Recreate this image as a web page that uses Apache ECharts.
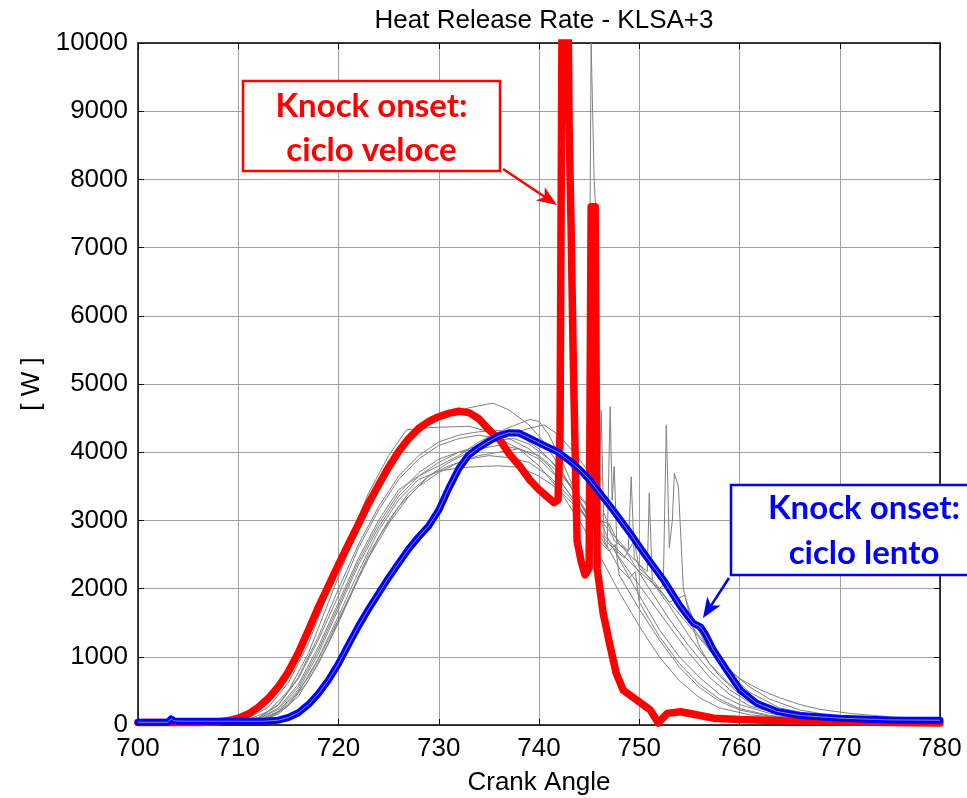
<!DOCTYPE html>
<html>
<head>
<meta charset="utf-8">
<script src="https://cdn.jsdelivr.net/npm/echarts@6/dist/echarts.min.js"></script>
<style>
html, body { margin: 0; padding: 0; background: #fff; }
#chart { width: 967px; height: 798px; }
</style>
</head>
<body>
<div id="chart"></div>
<script>
// tick values
const xTicks = [700, 710, 720, 730, 740, 750, 760, 770, 780]
const yTicks = [0, 1000, 2000, 3000, 4000, 5000, 6000, 7000, 8000, 9000, 10000]

// ciclo veloce (red) - [crank angle, W]
const fastCycle = [
    [700, 35], [703, 35], [706, 35], [708, 45], [709, 65], [710, 100], [711, 160], [712, 260],
    [713, 390], [714, 560], [715, 780], [716, 1060], [717, 1390], [718, 1730], [719, 2040],
    [720, 2350], [721, 2650], [722, 2950], [723, 3250], [724, 3520], [725, 3780], [726, 4010],
    [727, 4200], [728, 4350], [729, 4450], [730, 4520], [731, 4570], [732, 4600], [733, 4580],
    [734, 4490], [735, 4330], [736.1, 4180], [737, 3980], [738.1, 3790],
    [739.1, 3590], [740, 3450], [740.8, 3350], [741.5, 3260], [741.9, 3300], [742.1, 4300],
    [742.3, 10500], [742.9, 10500], [743.0, 8800], [743.2, 7300], [743.4, 5500], [743.6, 4000],
    [743.8, 2700], [744.2, 2400], [744.6, 2200], [745.0, 2300], [745.2, 7600], [745.6, 7600],
    [745.8, 2300], [746.4, 1640], [747.1, 1150], [747.7, 760], [748.4, 510], [749.7, 370],
    [751.1, 220], [751.9, 30], [752.8, 170], [754.1, 195], [755.7, 150], [757.4, 100],
    [760, 80], [765, 60], [770, 45], [780, 30]
]

// ciclo lento (blue)
const slowCycle = [
    [700, 40], [703, 40], [703.3, 90], [703.6, 60], [705, 55], [710, 55], [712.5, 55], [714, 70],
    [715, 110], [716, 180], [717, 300], [718, 460], [719, 660], [720, 900], [721, 1180],
    [722, 1450], [723, 1700], [724, 1930], [725, 2160], [726, 2370], [727, 2580], [728, 2760],
    [729, 2920], [730, 3150], [731, 3470], [732, 3760], [733, 3960], [734, 4070], [735, 4160],
    [736, 4240], [737, 4285], [738, 4280], [739, 4210], [740.5, 4100], [741.8, 4010], [743, 3880],
    [744.1, 3740], [745, 3600], [745.8, 3450], [747.4, 3150], [749.1, 2810], [750.7, 2470],
    [752.4, 2130], [754.1, 1740], [755.4, 1490], [756.1, 1440], [756.6, 1330], [757.4, 1100],
    [758.7, 810], [760.1, 510], [761.7, 320], [763.7, 200], [766, 140], [770, 100], [775, 75],
    [780, 70]
]

// other cycles (grey)
const cycle01 = [
    [700, 40], [708, 45], [711, 80], [713, 200], [715, 500], [717, 1050], [719, 1800], [721, 2550],
    [723, 3200], [725, 3750], [727, 4150], [729, 4400], [731, 4550], [733, 4650], [735.4, 4720],
    [737, 4620], [739, 4400], [740.5, 4150], [742, 3800], [743.5, 3400], [744.9, 3050],
    [745.2, 10000], [745.5, 8000], [745.9, 6900], [746.1, 3000], [747, 2700], [748.5, 2300],
    [750, 1900], [752, 1400], [754, 1000], [756, 700], [758, 450], [760, 300], [763, 170],
    [767, 100], [772, 70], [780, 50]
]
const cycle02 = [
    [700, 40], [709, 50], [711, 100], [713, 260], [715, 620], [717, 1200], [719, 1950], [721, 2700],
    [723, 3400], [725, 3950], [726.8, 4330], [729, 4360], [731, 4370], [733, 4380], [735, 4300],
    [737, 4200], [739, 4050], [741, 3800], [743, 3400], [745, 3000], [745.9, 2800], [746.2, 4620],
    [746.5, 2700], [748, 2300], [749, 2150], [749.6, 2250], [750, 1800], [752, 1300], [754, 900],
    [756, 600], [758, 380], [760, 240], [763, 140], [767, 90], [772, 65], [780, 50]
]
const cycle03 = [
    [700, 35], [710, 45], [712, 90], [714, 250], [716, 600], [718, 1150], [720, 1800], [722, 2450],
    [724, 3000], [726, 3450], [728, 3650], [730, 3800], [732, 3950], [734, 4150], [736, 4300],
    [738, 4420], [739.1, 4480], [740, 4450], [741, 4250], [742.5, 3800], [744, 3300], [745.5, 2900],
    [746.8, 2600], [747.1, 4670], [747.3, 3300], [747.5, 3790], [747.8, 2500], [749, 2250],
    [751, 1850], [753, 1450], [755, 1050], [757, 700], [759, 450], [761, 280], [764, 160],
    [768, 100], [773, 70], [780, 55]
]
const cycle04 = [
    [700, 40], [710, 45], [712, 70], [714, 200], [716, 520], [718, 1050], [720, 1700], [722, 2350],
    [724, 2900], [726, 3350], [728, 3650], [730, 3850], [732, 4000], [734, 4100], [736, 4180],
    [737.5, 4200], [739, 4120], [741, 3900], [743, 3550], [745, 3200], [747, 2850], [748.9, 2550],
    [749.2, 3640], [749.5, 2450], [751, 2150], [753, 1750], [755, 1300], [757, 900], [759, 600],
    [761, 380], [764, 200], [768, 110], [774, 70], [780, 55]
]
const cycle05 = [
    [700, 40], [710, 45], [712, 60], [714, 160], [716, 420], [718, 900], [720, 1500], [722, 2150],
    [724, 2750], [726, 3200], [728, 3500], [730, 3700], [732, 3850], [734, 3950], [736, 4000],
    [738, 4050], [740, 3950], [742, 3700], [744, 3350], [746, 3000], [747, 2950], [748, 2650],
    [750, 2350], [750.8, 2250], [751.0, 3400], [751.3, 2100], [753, 1800], [755, 1450],
    [757, 1100], [759, 800], [761, 560], [763, 380], [766, 220], [770, 120], [775, 80], [780, 65]
]
const cycle06 = [
    [700, 40], [710, 45], [712, 65], [714, 190], [716, 480], [718, 980], [720, 1600], [722, 2250],
    [724, 2850], [726, 3300], [728, 3600], [730, 3720], [732, 3770], [734, 3790], [736, 3800],
    [738, 3780], [740, 3650], [742, 3450], [744, 3150], [746, 2850], [748, 2550], [750, 2250],
    [752, 2000], [752.4, 2050], [752.7, 4400], [753.0, 2600], [753.3, 3000], [753.5, 3690],
    [753.9, 3500], [754.4, 2000], [755.2, 1500], [756, 1150], [757, 900], [758, 720], [760, 450],
    [762, 280], [765, 160], [770, 95], [780, 60]
]
const cycle07 = [
    [700, 40], [710, 50], [712, 85], [714, 230], [716, 560], [718, 1100], [720, 1750], [722, 2400],
    [724, 2950], [726, 3400], [728, 3700], [730, 3900], [732, 4000], [734, 4050], [736, 4100],
    [738, 4050], [740, 3900], [742, 3600], [744, 3200], [746, 2700], [747, 2550], [747.6, 2650],
    [748, 2200], [750, 1700], [752, 1250], [754, 850], [756, 550], [758, 350], [760, 220],
    [763, 130], [767, 85], [780, 50]
]
const cycle08 = [
    [700, 40], [711, 50], [713, 100], [715, 300], [717, 700], [719, 1250], [721, 1850], [723, 2450],
    [725, 2950], [727, 3350], [729, 3650], [731, 3850], [733, 4000], [735, 4150], [737, 4250],
    [739, 4350], [740.5, 4400], [742, 4250], [744, 3900], [746, 3500], [748, 3050], [750, 2600],
    [752, 2150], [754, 1700], [756, 1300], [758, 950], [760, 680], [762, 520], [764, 400],
    [766, 300], [768, 230], [771, 170], [775, 120], [780, 90]
]
const cycle09 = [
    [700, 40], [710, 50], [712, 110], [714, 300], [716, 700], [718, 1300], [720, 2000], [722, 2650],
    [724, 3200], [726, 3650], [728, 3950], [730, 4150], [732, 4250], [734, 4300], [736, 4320],
    [738, 4250], [740, 4050], [742, 3750], [744, 3300], [745.5, 2950], [746.5, 3100], [747.5, 2700],
    [748.5, 2600], [749.5, 2350], [751, 2000], [753, 1550], [755, 1150], [757, 800], [759, 520],
    [761, 330], [764, 180], [768, 100], [780, 55]
]
const cycle10 = [
    [700, 40], [710, 45], [713, 90], [715, 280], [717, 650], [719, 1200], [721, 1850], [723, 2500],
    [725, 3000], [727, 3400], [729, 3650], [731, 3800], [733, 3900], [735, 3950], [737, 3920],
    [739, 3850], [741, 3650], [743, 3350], [745, 3000], [747, 2650], [748.5, 2450], [749.5, 2700],
    [750, 2300], [751.5, 2100], [753, 1800], [754.5, 1900], [755.5, 1500], [757, 1100], [759, 750],
    [761, 480], [764, 250], [768, 130], [774, 80], [780, 60]
]
const cycle11 = [
    [700, 40], [710, 50], [712, 100], [714, 290], [716, 680], [718, 1250], [720, 1900], [722, 2600],
    [724, 3150], [726, 3600], [728, 3900], [730, 4100], [732, 4200], [734, 4250], [736, 4200],
    [738, 4050], [740, 3800], [742, 3450], [744, 3000], [746, 2500], [748, 1950], [750, 1450],
    [752, 1000], [754, 650], [756, 400], [758, 250], [761, 150], [765, 95], [772, 65], [780, 50]
]

const greyCycles = [cycle01, cycle02, cycle03, cycle04, cycle05, cycle06, cycle07, cycle08, cycle09, cycle10, cycle11]

const FONT = 'Liberation Sans'
const FONT_SIZE = 26
const GRID = { left: 138, right: 27, top: 43, bottom: 73, outerBoundsMode: 'none' }

const chart = echarts.init(document.getElementById('chart'))

const axisLineStyle = { color: '#000', width: 1.5 }

// freccia: linea + punta
function arrow(x1, y1, x2, y2, color) {
    const dx = x2 - x1
    const dy = y2 - y1
    const len = Math.sqrt(dx * dx + dy * dy)
    const ux = dx / len
    const uy = dy / len
    const headLen = 20
    const headW = 8
    const bx = x2 - ux * headLen
    const by = y2 - uy * headLen
    const nx = bx + ux * 5
    const ny = by + uy * 5
    return [
        {
            type: 'line',
            shape: { x1: x1, y1: y1, x2: x2 - ux * 10, y2: y2 - uy * 10 },
            style: { stroke: color, lineWidth: 2.5 },
            z: 100
        },
        {
            type: 'polygon',
            shape: {
                points: [
                    [x2, y2],
                    [bx - uy * headW, by + ux * headW],
                    [nx, ny],
                    [bx + uy * headW, by - ux * headW]
                ]
            },
            style: { fill: color },
            z: 100
        }
    ]
}

const series = []
greyCycles.forEach((data, i) => {
    series.push({
        name: 'ciclo ' + (i + 1),
        type: 'line',
        data: data,
        symbol: 'none',
        lineStyle: { color: '#808080', width: 1 },
        z: 2,
        animation: false
    })
})
series.push({
    name: 'ciclo veloce',
    type: 'line',
    data: fastCycle,
    symbol: 'none',
    lineStyle: { color: '#ff0000', width: 7.5, join: 'round', cap: 'round' },
    z: 3,
    animation: false
})
series.push({
    name: 'ciclo lento',
    type: 'line',
    data: slowCycle,
    symbol: 'none',
    lineStyle: { color: '#0000ff', width: 7, join: 'round', cap: 'round' },
    z: 4,
    animation: false
})
// il ciclo lento tracciato anche in grigio sopra
series.push({
    name: 'ciclo lento grigio',
    type: 'line',
    data: slowCycle,
    symbol: 'none',
    lineStyle: { color: '#8a8a8a', width: 1 },
    z: 5,
    animation: false
})

const labelStyle = { fontFamily: FONT, fontSize: FONT_SIZE, color: '#000' }

const option = {
    backgroundColor: '#fff',
    animation: false,
    title: {
        text: 'Heat Release Rate - KLSA+3',
        left: 539,
        top: 3,
        textAlign: 'center',
        textStyle: { fontFamily: FONT, fontSize: FONT_SIZE, fontWeight: 'normal', color: '#000' }
    },
    grid: GRID,
    xAxis: [
        {
            type: 'value',
            min: xTicks[0],
            max: xTicks[xTicks.length - 1],
            interval: 10,
            position: 'bottom',
            name: 'Crank Angle',
            nameLocation: 'middle',
            nameGap: 45,
            nameTextStyle: labelStyle,
            axisLine: { onZero: false, lineStyle: axisLineStyle },
            axisTick: { inside: true, length: 6, lineStyle: { color: '#000' } },
            axisLabel: Object.assign({ margin: 11 }, labelStyle),
            splitLine: { show: true, lineStyle: { color: '#a0a0a0', width: 1 } }
        },
        {
            type: 'value',
            min: xTicks[0],
            max: xTicks[xTicks.length - 1],
            interval: 10,
            position: 'top',
            axisLine: { onZero: false, lineStyle: axisLineStyle },
            axisTick: { inside: true, length: 6, lineStyle: { color: '#000' } },
            axisLabel: { show: false },
            splitLine: { show: false }
        }
    ],
    yAxis: [
        {
            type: 'value',
            min: yTicks[0],
            max: yTicks[yTicks.length - 1],
            interval: 1000,
            position: 'left',
            name: '[ W ]',
            nameLocation: 'middle',
            nameGap: 92,
            nameTextStyle: labelStyle,
            axisLine: { show: true, onZero: false, lineStyle: axisLineStyle },
            axisTick: { show: true, inside: true, length: 6, lineStyle: { color: '#000' } },
            axisLabel: Object.assign({ margin: 10, formatter: v => String(v) }, labelStyle),
            splitLine: { show: true, lineStyle: { color: '#a0a0a0', width: 1 } }
        },
        {
            type: 'value',
            min: yTicks[0],
            max: yTicks[yTicks.length - 1],
            interval: 1000,
            position: 'right',
            axisLine: { show: true, onZero: false, lineStyle: axisLineStyle },
            axisTick: { show: true, inside: true, length: 6, lineStyle: { color: '#000' } },
            axisLabel: { show: false },
            splitLine: { show: false }
        }
    ],
    series: series,
    graphic: [
        {
            type: 'rect',
            shape: { x: 243, y: 81, width: 257, height: 90 },
            style: { fill: '#fff', stroke: '#ff0000', lineWidth: 2.5 },
            z: 100
        },
        {
            type: 'text',
            x: 371.5,
            y: 128,
            style: {
                text: 'Knock onset:\nciclo veloce',
                fill: '#ff0000',
                font: 'bold 33px Lato',
                lineHeight: 44,
                align: 'center',
                verticalAlign: 'middle'
            },
            z: 101
        },
        ...arrow(503, 169, 557, 205, '#ff0000'),
        {
            type: 'rect',
            shape: { x: 731, y: 485, width: 266, height: 90 },
            style: { fill: '#fff', stroke: '#0000ff', lineWidth: 2.5 },
            z: 100
        },
        {
            type: 'text',
            x: 864,
            y: 531,
            style: {
                text: 'Knock onset:\nciclo lento',
                fill: '#0000ff',
                font: 'bold 33px Lato',
                lineHeight: 45,
                align: 'center',
                verticalAlign: 'middle'
            },
            z: 101
        },
        ...arrow(729, 578, 703, 618, '#0000ff')
    ]
}

chart.setOption(option)
</script>
</body>
</html>
